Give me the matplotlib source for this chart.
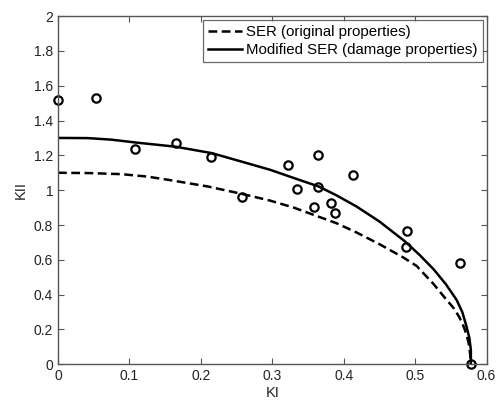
import matplotlib
matplotlib.use("Agg")
import matplotlib.pyplot as plt

plt.rcParams['font.family'] = ['Liberation Sans', 'DejaVu Sans']

# SER curve (original properties)
ser_ki = [0.0, 0.045, 0.089, 0.125, 0.155, 0.21, 0.257, 0.297, 0.33, 0.358, 0.39, 0.418, 0.45, 0.484, 0.502,
          0.526, 0.54, 0.554, 0.562, 0.568, 0.572, 0.575, 0.577, 0.578]
ser_kii = [1.10, 1.098, 1.092, 1.078, 1.059, 1.021, 0.979, 0.94, 0.90, 0.858, 0.81, 0.757, 0.69, 0.612, 0.565,
           0.46, 0.39, 0.322, 0.27, 0.216, 0.17, 0.12, 0.06, 0.0]

# Modified SER curve (damage properties)
mod_ki = [0.0, 0.042, 0.075, 0.108, 0.164, 0.215, 0.257, 0.297, 0.33, 0.365, 0.39, 0.418, 0.45, 0.486, 0.507,
          0.526, 0.543, 0.558, 0.566, 0.572, 0.576, 0.578, 0.578]
mod_kii = [1.30, 1.299, 1.29, 1.274, 1.25, 1.213, 1.164, 1.117, 1.07, 1.021, 0.97, 0.906, 0.82, 0.705, 0.625,
           0.545, 0.46, 0.37, 0.30, 0.216, 0.15, 0.082, 0.0]

# Experimental points
exp_ki = [0.0, 0.053, 0.108, 0.165, 0.214, 0.257, 0.3226, 0.364, 0.4136, 0.334, 0.364, 0.359, 0.382, 0.388, 0.489, 0.487, 0.563, 0.578]
exp_kii = [1.52, 1.53, 1.235, 1.27, 1.19, 0.958, 1.145, 1.20, 1.088, 1.006, 1.021, 0.902, 0.925, 0.871, 0.766, 0.676, 0.58, 0.0]

x_ticks = [0, 0.1, 0.2, 0.3, 0.4, 0.5, 0.6]
y_ticks = [0, 0.2, 0.4, 0.6, 0.8, 1.0, 1.2, 1.4, 1.6, 1.8, 2.0]
x_ticklabels = ['0', '0.1', '0.2', '0.3', '0.4', '0.5', '0.6']
y_ticklabels = ['0', '0.2', '0.4', '0.6', '0.8', '1', '1.2', '1.4', '1.6', '1.8', '2']

fig = plt.figure(figsize=(4.96, 4.01), dpi=100)
ax = fig.add_axes([0.117, 0.0915, 0.864, 0.8685])

ax.plot(ser_ki, ser_kii, color='black', lw=1.8, linestyle=(0, (3.5, 1.8)),
        label='SER (original properties)')
ax.plot(mod_ki, mod_kii, color='black', lw=1.8, linestyle='-',
        label='Modified SER (damage properties)')
ax.plot(exp_ki, exp_kii, linestyle='none', marker='o', markersize=6,
        markerfacecolor='none', markeredgecolor='black', markeredgewidth=1.6,
        clip_on=False)

ax.set_xlim(0, 0.6)
ax.set_ylim(0, 2)
ax.set_xticks(x_ticks)
ax.set_xticklabels(x_ticklabels)
ax.set_yticks(y_ticks)
ax.set_yticklabels(y_ticklabels)
ax.tick_params(direction='in', top=True, right=True, length=4, width=0.8,
               color='#555555', labelsize=10, labelcolor='#222222')
for s in ax.spines.values():
    s.set_color('#555555')
    s.set_linewidth(1.0)

ax.set_xlabel('KI', fontsize=10.5, color='#222222', labelpad=2)
ax.set_ylabel('KII', fontsize=10.5, color='#222222', labelpad=4)

leg = ax.legend(loc='upper right', fontsize=10.8, frameon=True, fancybox=False,
                edgecolor='#444444', borderpad=0.35, handlelength=2.3,
                handletextpad=0.25, labelspacing=0.25, borderaxespad=0.25)
leg.get_frame().set_linewidth(0.9)

fig.savefig('out.png', dpi=100)
